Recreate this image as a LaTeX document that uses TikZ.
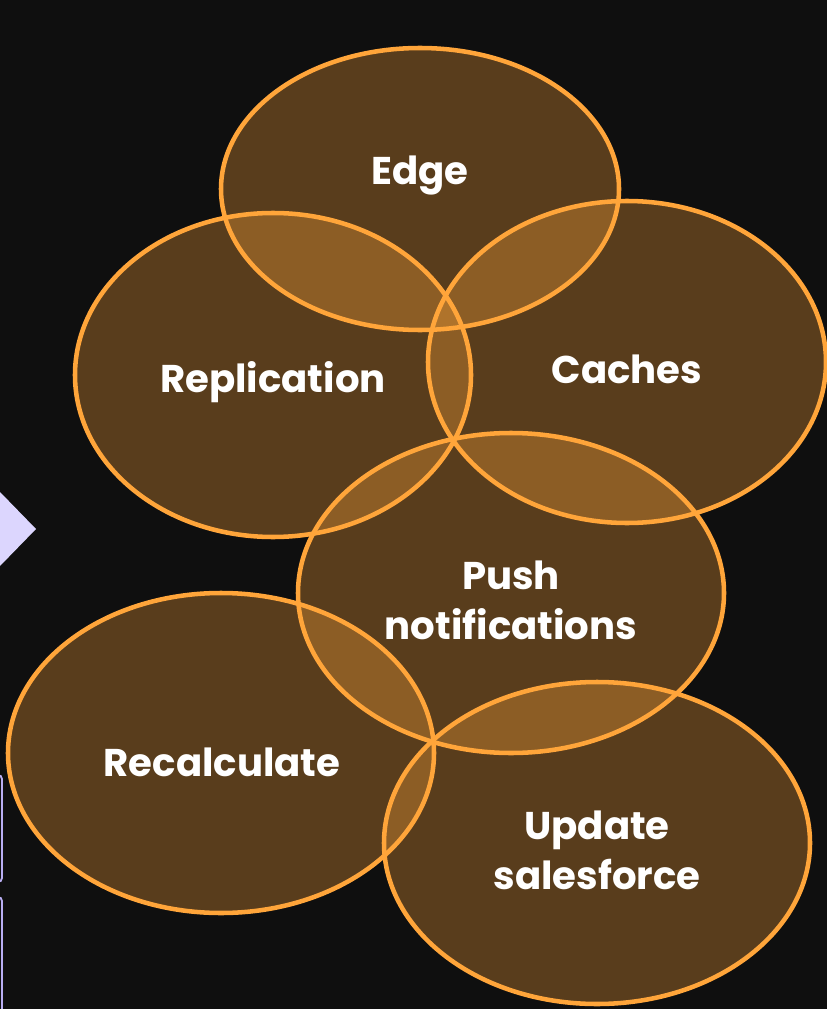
\documentclass[tikz,border=0pt]{standalone}
\usepackage{fontspec}
\setmainfont{Poppins}
\usetikzlibrary{shapes.geometric}
\definecolor{bgdark}{HTML}{0F0F0F}
\definecolor{ringorange}{HTML}{FFA53A}
\definecolor{lavender}{HTML}{DCD6FE}
\definecolor{lavenderedge}{HTML}{B9AEF2}

\begin{document}
\begin{tikzpicture}[x=0.75pt, y=-0.75pt,
    bubble/.style={ellipse, draw=ringorange, line width=3.4pt, fill=ringorange,
      fill opacity=0.31, draw opacity=1, inner sep=0pt},
    lbl/.style={text=white, font=\bfseries\fontsize{29}{37.5}\selectfont, align=center}]
    \useasboundingbox (0,0) rectangle (827,1009);
    \fill [bgdark] (0,0) rectangle (827,1009);

    % bits of the neighbouring slide
    \fill [lavender] (0,492) -- (36,529) -- (0,566) -- cycle;
    \draw [lavenderedge, line width=1.4pt, rounded corners=3pt] (-20,775) rectangle (2,882);
    \draw [lavenderedge, line width=1.4pt, rounded corners=3pt] (-20,897) rectangle (2,1030);

    % the bubbles
    \node [bubble, minimum width=298.5pt, minimum height=211.5pt] (edge) at (420,189) {};
    \node [bubble, minimum width=297pt, minimum height=243pt] (replication) at (273,375) {};
    \node [bubble, minimum width=298.5pt, minimum height=241.5pt] (caches) at (627,362) {};
    \node [bubble, minimum width=319.5pt, minimum height=240pt] (push) at (511,593) {};
    \node [bubble, minimum width=319.5pt, minimum height=240pt] (recalc) at (221,753) {};
    \node [bubble, minimum width=319.5pt, minimum height=241.5pt] (update) at (597,843) {};

    \node [lbl] (edgelbl) at (420,176) {Edge};
    \node [lbl] (repllbl) at (273,382) {Replication};
    \node [lbl] (cacheslbl) at (627,369) {Caches};
    \node [lbl] (pushlbl) at (511,600) {Push\\notifications};
    \node [lbl] (recalclbl) at (222,762) {Recalculate};
    \node [lbl] (updatelbl) at (597,850) {Update\\salesforce};
\end{tikzpicture}
\end{document}
